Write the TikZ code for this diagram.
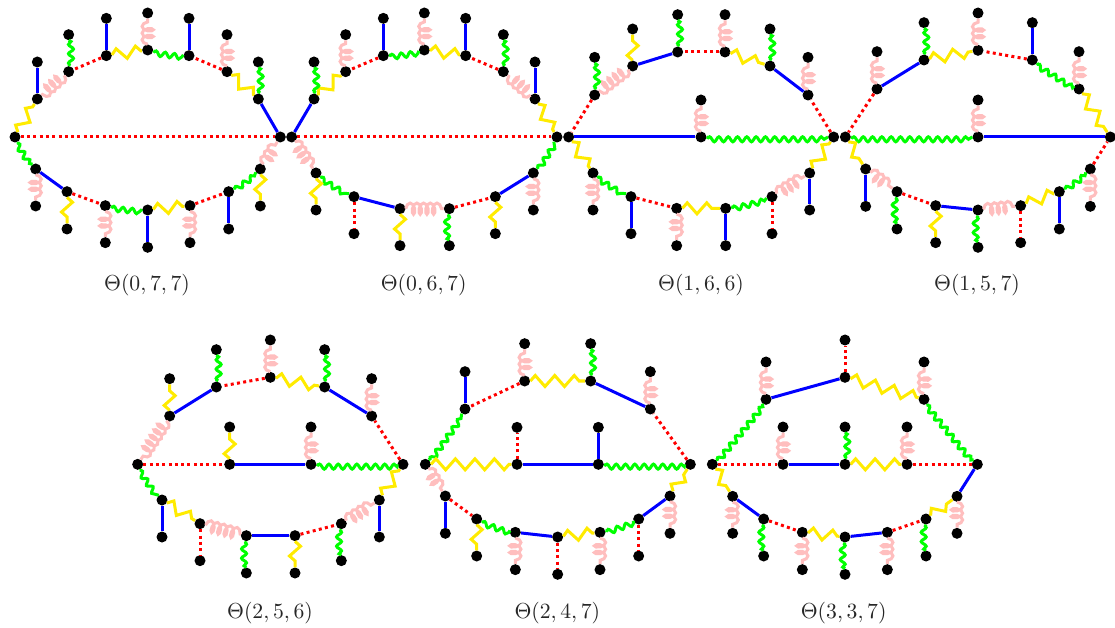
\documentclass[tikz,border=0pt]{standalone}
\usetikzlibrary{decorations.pathmorphing}
\definecolor{cblue}{RGB}{0,0,255}
\definecolor{cgreen}{RGB}{0,255,0}
\definecolor{cyellow}{RGB}{255,235,0}
\definecolor{cpink}{RGB}{255,190,190}
\definecolor{cred}{RGB}{255,0,0}
\tikzset{
  vtx/.style={circle,fill=black,inner sep=0pt,minimum size=11pt},
  ttl/.style={inner sep=0pt,scale=2.17,text=black!85},
  eb/.style={draw=cblue,line width=3pt},
  er/.style={draw=cred,line width=3pt,dash pattern=on 3pt off 3.3pt},
  eg/.style={draw=cgreen,line width=3pt,decorate,decoration={snake,segment length=9.3pt,amplitude=2.5pt,raise=-2.3pt}},
  ey/.style={draw=cyellow,line width=3pt,decorate,decoration={zigzag,segment length=19.5pt,amplitude=5.5pt}},
  ep/.style={draw=cpink,line width=3pt,decorate,decoration={coil,aspect=0.5,segment length=6.7pt,amplitude=5.6pt}},
}
\newcommand{\verts}[1]{\foreach \n/\px/\py in {#1} \node[vtx] (\n) at (\px,\py) {};}
\newcommand{\edges}[1]{\foreach \s/\p/\q in {#1} \draw[\s] (\p) -- (\q);}
\begin{document}
\begin{tikzpicture}[x=0.33333pt,y=-0.33333pt]
\useasboundingbox[fill=white] (0,0) rectangle (3345,1884);
% Theta(0,7,7)
\begin{scope}
\verts{aL/45/411,aR/841/411,at1/112/297,at2/206/215,at3/319/167,at4/443/150,at5/567/167,at6/681/215,at7/775/297,
 ax1/112/186,ax2/206/104,ax3/319/55,ax4/443/39,ax5/567/55,ax6/681/104,ax7/775/186,
 ab1/107/507,ab2/201/575,ab3/316/617,ab4/443/630,ab5/570/617,ab6/686/575,ab7/781/507,
 ay1/107/618,ay2/201/687,ay3/316/728,ay4/443/742,ay5/570/728,ay6/686/687,ay7/781/618}
\edges{ey/aL/at1,ep/at2/at1,er/at3/at2,ey/at3/at4,eg/at4/at5,er/at6/at5,ey/at6/at7,eb/aR/at7,
 eb/at1/ax1,eg/at2/ax2,eb/at3/ax3,ep/at4/ax4,eb/at5/ax5,ep/at6/ax6,eg/at7/ax7,
 er/aL/aR,
 eg/aL/ab1,eb/ab1/ab2,er/ab2/ab3,eg/ab3/ab4,ey/ab4/ab5,er/ab5/ab6,eg/ab6/ab7,ep/ab7/aR,
 ep/ab1/ay1,ey/ab2/ay2,ep/ab3/ay3,eb/ab4/ay4,ep/ab5/ay5,eb/ab6/ay6,ey/ab7/ay7}
\node[ttl] (alab) at (441,855) {$\Theta(0,7,7)$};
\end{scope}
% Theta(0,6,7)
\begin{scope}[shift={(840,0)}]
\verts{bL/35/411,bR/831/411,bt1/102/297,bt2/197/215,bt3/310/167,bt4/433/150,bt5/557/167,bt6/670/215,bt7/765/297,
 bx1/102/186,bx2/197/104,bx3/310/55,bx4/433/39,bx5/557/55,bx6/670/104,bx7/765/186,
 bb1/108/519,bb2/222/590,bb3/360/626,bb4/508/626,bb5/646/590,bb6/760/519,
 by1/108/630,by2/222/701,by3/360/737,by4/508/737,by5/646/701,by6/760/630}
\edges{eb/bt1/bL,ey/bt1/bt2,er/bt3/bt2,eg/bt3/bt4,ey/bt4/bt5,er/bt6/bt5,ep/bt7/bt6,ey/bt7/bR,
 eg/bt1/bx1,ep/bt2/bx2,eb/bt3/bx3,ep/bt4/bx4,eb/bt5/bx5,eg/bt6/bx6,eb/bt7/bx7,
 er/bL/bR,
 ep/bL/bb1,eg/bb1/bb2,eb/bb2/bb3,ep/bb3/bb4,er/bb4/bb5,eb/bb5/bb6,eg/bb6/bR,
 ey/bb1/by1,er/bb2/by2,ey/bb3/by3,eg/bb4/by4,ey/bb5/by5,ep/bb6/by6}
\node[ttl] (blab) at (431,855) {$\Theta(0,6,7)$};
\end{scope}
% Theta(1,6,6)
\begin{scope}[shift={(1665,0)}]
\verts{cL/41/411,cR/836/411,cM/438/411,cz/438/300,ct1/119/285,ct2/233/198,ct3/368/156,ct4/510/156,ct5/645/198,ct6/759/285,
 cx1/119/172,cx2/233/87,cx3/368/44,cx4/510/44,cx5/645/87,cx6/759/172,
 cb1/114/519,cb2/228/590,cb3/365/625,cb4/512/625,cb5/651/590,cb6/764/519,
 cy1/114/630,cy2/228/701,cy3/365/737,cy4/512/737,cy5/651/701,cy6/764/630}
\edges{er/ct1/cL,ep/ct2/ct1,eb/ct3/ct2,er/ct4/ct3,ey/ct4/ct5,eb/ct6/ct5,er/cR/ct6,
 eg/ct1/cx1,ey/ct2/cx2,eg/ct3/cx3,ep/ct4/cx4,eg/ct5/cx5,ep/ct6/cx6,
 eb/cL/cM,eg/cM/cR,ep/cM/cz,
 ey/cL/cb1,eg/cb1/cb2,er/cb2/cb3,ey/cb3/cb4,eg/cb4/cb5,ep/cb5/cb6,ey/cb6/cR,
 ep/cb1/cy1,eb/cb2/cy2,ep/cb3/cy3,eb/cb4/cy4,er/cb5/cy5,eb/cb6/cy6}
\node[ttl] (clab) at (438,855) {$\Theta(1,6,6)$};
\end{scope}
% Theta(1,5,7)
\begin{scope}[shift={(2475,0)}]
\verts{dL/61/411,dR/856/411,dM/459/411,dz/459/300,dt1/156/267,dt2/297/180,dt3/459/151,dt4/622/180,dt5/762/267,
 dx1/156/155,dx2/297/68,dx3/459/39,dx4/622/68,dx5/762/155,
 db1/122/507,db2/216/575,db3/332/617,db4/459/630,db5/587/617,db6/703/575,db7/796/507,
 dy1/122/619,dy2/216/687,dy3/332/728,dy4/459/742,dy5/587/728,dy6/703/687,dy7/796/619}
\edges{er/dt1/dL,eb/dt2/dt1,ey/dt2/dt3,er/dt4/dt3,eg/dt4/dt5,ey/dt5/dR,
 ep/dt1/dx1,eg/dt2/dx2,ep/dt3/dx3,eb/dt4/dx4,ep/dt5/dx5,
 eg/dL/dM,eb/dM/dR,ep/dM/dz,
 ey/dL/db1,ep/db1/db2,er/db2/db3,eb/db3/db4,ep/db4/db5,ey/db5/db6,eg/db6/db7,er/db7/dR,
 eb/db1/dy1,eg/db2/dy2,ey/db3/dy3,eg/db4/dy4,er/db5/dy5,eb/db6/dy6,ep/db7/dy7}
\node[ttl] (dlab) at (456,855) {$\Theta(1,5,7)$};
\end{scope}
% Theta(2,5,6)
\begin{scope}[shift={(375,990)}]
\verts{eL/38/403,eR/834/403,eM1/314/403,eM2/558/403,ez1/314/291,ez2/558/291,et1/134/258,et2/274/171,et3/436/142,et4/599/171,et5/740/258,
 ex1/134/146,ex2/274/59,ex3/436/30,ex4/599/59,ex5/740/146,
 eb1/111/510,eb2/225/581,eb3/364/617,eb4/510/617,eb5/649/581,eb6/763/510,
 ey1/111/621,ey2/225/692,ey3/364/729,ey4/510/729,ey5/649/692,ey6/763/621}
\edges{ep/et1/eL,eb/et2/et1,er/et3/et2,ey/et3/et4,eb/et5/et4,er/eR/et5,
 ey/et1/ex1,eg/et2/ex2,ep/et3/ex3,eg/et4/ex4,ep/et5/ex5,
 er/eL/eM1,eb/eM1/eM2,eg/eM2/eR,ey/eM1/ez1,ep/eM2/ez2,
 eg/eL/eb1,ey/eb1/eb2,ep/eb2/eb3,eb/eb3/eb4,er/eb4/eb5,ep/eb5/eb6,ey/eb6/eR,
 eb/eb1/ey1,er/eb2/ey2,eg/eb3/ey3,ey/eb4/ey4,eg/eb5/ey5,eb/eb6/ey6}
\node[ttl] (elab) at (435,848) {$\Theta(2,5,6)$};
\end{scope}
% Theta(2,4,7)
\begin{scope}[shift={(1245,990)}]
\verts{fL/31/403,fR/826/403,fM1/306/403,fM2/550/403,fz1/306/292,fz2/550/292,ft1/150/237,ft2/329/153,ft3/527/153,ft4/706/237,
 fx1/150/125,fx2/329/41,fx3/527/41,fx4/706/125,
 fb1/91/498,fb2/185/567,fb3/301/607,fb4/428/621,fb5/555/607,fb6/671/567,fb7/765/498,
 fy1/91/610,fy2/185/678,fy3/301/719,fy4/428/733,fy5/555/719,fy6/671/678,fy7/765/610}
\edges{eg/fL/ft1,er/ft2/ft1,ey/ft2/ft3,eb/ft4/ft3,er/fR/ft4,
 eb/ft1/fx1,ep/ft2/fx2,eg/ft3/fx3,ep/ft4/fx4,
 ey/fL/fM1,eb/fM1/fM2,eg/fM2/fR,er/fM1/fz1,eb/fM2/fz2,
 ep/fL/fb1,er/fb1/fb2,eg/fb2/fb3,eb/fb3/fb4,ey/fb4/fb5,eg/fb5/fb6,eb/fb6/fb7,ey/fb7/fR,
 eb/fb1/fy1,ey/fb2/fy2,ep/fb3/fy3,er/fb4/fy4,ep/fb5/fy5,er/fb6/fy6,ep/fb7/fy7}
\node[ttl] (flab) at (427,848) {$\Theta(2,4,7)$};
\end{scope}
% Theta(3,3,7)
\begin{scope}[shift={(2100,990)}]
\verts{gL/37/403,gR/832/403,gM1/249/403,gM2/435/403,gM3/621/403,gz1/249/291,gz2/435/291,gz3/621/291,gt1/198/208,gt2/435/142,gt3/672/208,
 gx1/198/96,gx2/435/30,gx3/672/96,
 gb1/98/499,gb2/191/567,gb3/307/607,gb4/435/621,gb5/562/607,gb6/678/567,gb7/771/499,
 gy1/98/610,gy2/191/678,gy3/307/719,gy4/435/733,gy5/562/719,gy6/678/678,gy7/771/610}
\edges{eg/gL/gt1,eb/gt2/gt1,ey/gt2/gt3,eg/gt3/gR,
 ep/gt1/gx1,er/gt2/gx2,ep/gt3/gx3,
 er/gL/gM1,eb/gM1/gM2,ey/gM2/gM3,er/gM3/gR,ep/gM1/gz1,eg/gM2/gz2,ep/gM3/gz3,
 ey/gL/gb1,eb/gb1/gb2,er/gb2/gb3,ey/gb3/gb4,eb/gb4/gb5,er/gb5/gb6,ey/gb6/gb7,eb/gb7/gR,
 ep/gb1/gy1,eg/gb2/gy2,ep/gb3/gy3,eg/gb4/gy4,ep/gb5/gy5,eg/gb6/gy6,ep/gb7/gy7}
\node[ttl] (glab) at (431,848) {$\Theta(3,3,7)$};
\end{scope}
\end{tikzpicture}
\end{document}
